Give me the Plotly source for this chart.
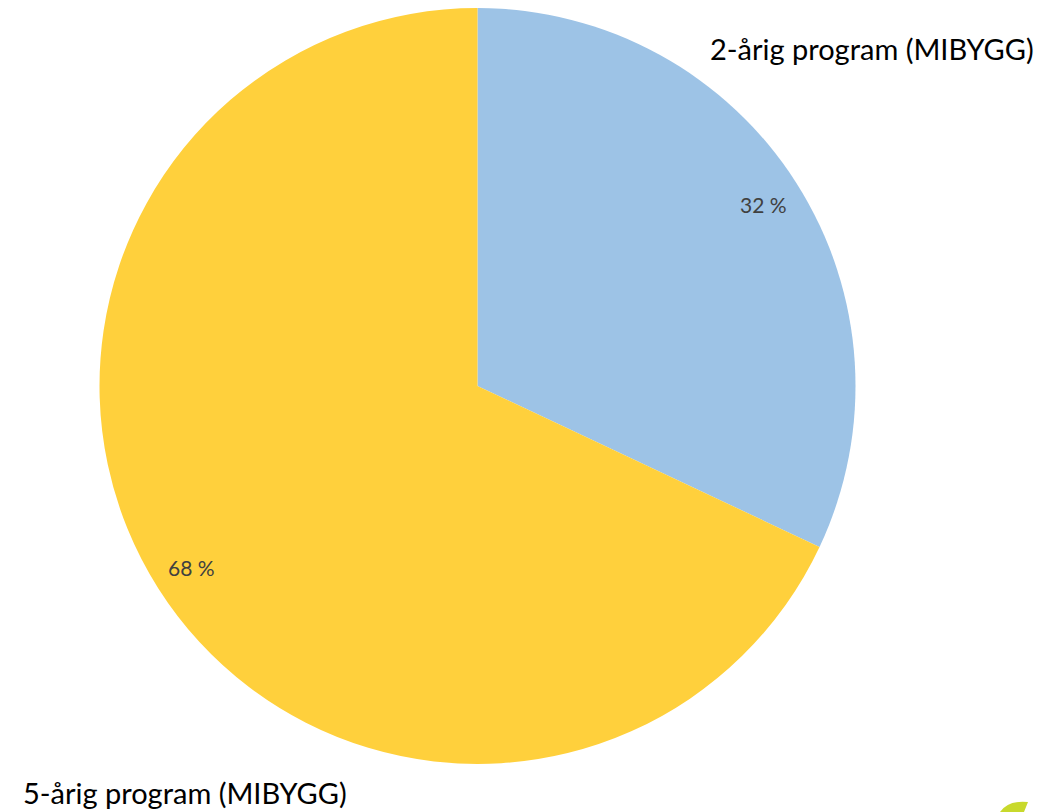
import math
import plotly.graph_objects as go

categories = ["2-årig program (MIBYGG)", "5-årig program (MIBYGG)"]
values = [32, 68]
colors = ["#9DC3E6", "#FFD03C"]

# page body has an 8px margin; work in screen pixels and shift
OFF = 8
W, H = 1061 - OFF, 812 - OFF


def px(x):
    return (x - OFF) / W


def py(y):
    return 1 - (y - OFF) / H


cx, cy, R = 477.5, 386.0, 378.0
dom_x = [px(cx - R), px(cx + R)]
dom_y = [py(cy + R), py(cy - R)]

fig = go.Figure(go.Pie(
    labels=categories,
    values=values,
    sort=False,
    direction="clockwise",
    rotation=0,
    marker=dict(colors=colors, line=dict(width=0)),
    textinfo="none",
    hoverinfo="label+percent",
    showlegend=False,
    domain=dict(x=dom_x, y=dom_y),
))

FONT = "Lato, Open Sans, sans-serif"

# percentage labels, placed at slice mid-angles
total = sum(values)
cum = 0
annotations = []
for v in values:
    mid = (cum + v / 2) / total * 2 * math.pi
    cum += v
    r = 0.895 * R
    lx = cx + r * math.sin(mid)
    ly = cy - r * math.cos(mid)
    annotations.append(dict(
        x=px(lx), y=py(ly), xref="paper", yref="paper",
        text=f"{round(v / total * 100)} %", showarrow=False,
        font=dict(family=FONT, size=21, color="#404040"),
        xanchor="center", yanchor="middle",
    ))

# category labels
annotations.append(dict(
    x=px(708), y=py(48), xref="paper", yref="paper",
    text=categories[0], showarrow=False,
    font=dict(family=FONT, size=29, color="#000000"),
    xanchor="left", yanchor="middle",
))
annotations.append(dict(
    x=px(22), y=py(811), xref="paper", yref="paper",
    text=categories[1], showarrow=False,
    font=dict(family=FONT, size=29, color="#000000"),
    xanchor="left", yanchor="bottom", borderpad=0,
))

shapes = [dict(
    type="path", xref="paper", yref="paper",
    path=f"M {px(1000)} {py(812)} Q {px(1008)} {py(800)} {px(1028)} {py(802)} L {px(1024)} {py(812)} Z",
    fillcolor="#C8D92C", line=dict(width=0),
)]

fig.update_layout(
    width=W, height=H,
    margin=dict(l=0, r=0, t=0, b=0),
    paper_bgcolor="#FFFFFF",
    plot_bgcolor="#FFFFFF",
    annotations=annotations,
    shapes=shapes,
)

fig.write_html("out.html")
